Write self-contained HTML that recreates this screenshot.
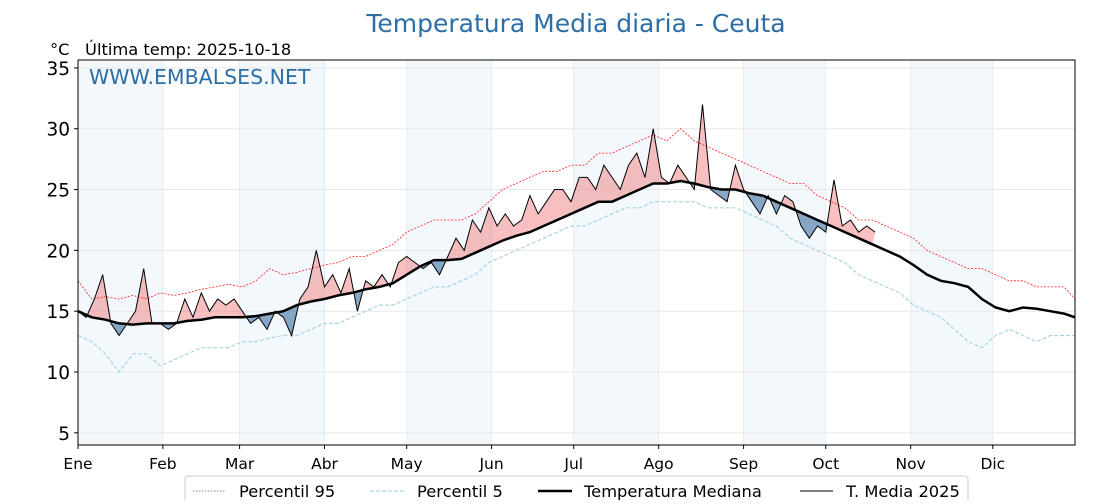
<!DOCTYPE html>
<html><head><meta charset="utf-8"><style>
body{margin:0;background:#fff;width:1120px;height:500px;overflow:hidden;font-family:"DejaVu Sans","Liberation Sans",sans-serif}
</style></head><body>
<svg width="1120" height="500" xmlns="http://www.w3.org/2000/svg" id="chart" font-family="DejaVu Sans, Liberation Sans, sans-serif">
<text x="576" y="32" text-anchor="middle" font-size="25" fill="#2d6ea6">Temperatura Media diaria - Ceuta</text>
<text x="50" y="55" font-size="16.3" fill="#000" xml:space="preserve">°C   Última temp: 2025-10-18</text>
<g id="bands"></g><g id="grid"></g><g id="series"></g>
<rect x="78" y="60" width="997" height="385" fill="none" stroke="#000" stroke-width="1"/>
<text x="89" y="84" font-size="20.5" fill="#2d6ea6">WWW.EMBALSES.NET</text>
<g id="axes"></g>
<g>
<rect x="185" y="476" width="783" height="36" rx="3" fill="#fff" stroke="#ccc"/>
<line x1="193" y1="491" x2="225" y2="491" stroke="#555" stroke-width="0.8" stroke-dasharray="1.5,1.5"/>
<text x="239" y="497" font-size="16.3">Percentil 95</text>
<line x1="370" y1="491" x2="405" y2="491" stroke="#a8d4e0" stroke-width="1.2" stroke-dasharray="4,2"/>
<text x="417" y="497" font-size="16.3">Percentil 5</text>
<line x1="538" y1="491" x2="572" y2="491" stroke="#000" stroke-width="2.5"/>
<text x="584" y="497" font-size="16.3">Temperatura Mediana</text>
<line x1="800" y1="491" x2="833" y2="491" stroke="#000" stroke-width="1"/>
<text x="846" y="497" font-size="16.3">T. Media 2025</text>
</g>
</svg>
<script>
const months=["Ene","Feb","Mar","Abr","May","Jun","Jul","Ago","Sep","Oct","Nov","Dic"];
const monthStartDays=[0,31,59,90,120,151,181,212,243,273,304,334];
const yTicks=[5,10,15,20,25,30,35];
// step 5 days
const median=[15,14.5,14.3,14,13.9,14,14,14,14.2,14.3,14.5,14.5,14.5,14.6,14.8,15,15.5,15.8,16,16.3,16.5,16.8,17,17.3,18,18.7,19.2,19.2,19.3,19.8,20.3,20.8,21.2,21.5,22,22.5,23,23.5,24,24,24.5,25,25.5,25.5,25.7,25.5,25.2,25,25,24.7,24.5,24,23.5,23,22.5,22,21.5,21,20.5,20,19.5,18.8,18,17.5,17.3,17,16,15.3,15,15.3,15.2,15,14.8,14.5];
const p95=[17.5,16,16.2,16,16.3,16,16.5,16.3,16.5,16.8,17,17.2,17,17.5,18.5,18,18.2,18.5,18.8,19,19.5,19.5,20,20.5,21.5,22,22.5,22.5,22.5,23,24,25,25.5,26,26.5,26.5,27,27,28,28,28.5,29,29.5,29,30,29,28.5,28,27.5,27,26.5,26,25.5,25.5,24.5,24,23.5,22.5,22.5,22,21.5,21,20,19.5,19,18.5,18.5,18,17.5,17.5,17,17,17,16];
const p5=[13,12.5,11.5,10,11.5,11.5,10.5,11,11.5,12,12,12,12.5,12.5,12.8,13,13,13.5,14,14,14.5,15,15.5,15.5,16,16.5,17,17,17.5,18,19,19.5,20,20.5,21,21.5,22,22,22.5,23,23.5,23.5,24,24,24,24,23.5,23.5,23.5,23,22.5,22,21,20.5,20,19.5,19,18,17.5,17,16.5,15.5,15,14.5,13.5,12.5,12,13,13.5,13,12.5,13,13,13];
// step 3 days
const t2025=[15,14.5,16,18,14,13,14,15,18.5,14,14,13.5,14,16,14.5,16.5,15,16,15.5,16,15,14,14.5,13.5,15,14.5,13,16,17,20,17,18,16.5,18.5,15,17.5,17,18,17,19,19.5,19,18.5,19,18,19.5,21,20,22.5,21.5,23.5,22,23,22,22.5,24.5,23,24,25,25,24,26,26,25,27,26,25,27,28,26,30,26,25.5,27,26,25,32,25,24.5,24,27,25,24,23,24.5,23,24.5,24,22,21,22,21.5,25.8,22,22.5,21.5,22,21.5];
const X0=78,X1=1075,Y0=60,Y1=445,YMIN=4.0,YMAX=35.65;
const xs=d=>X0+d*(X1-X0)/364, ys=v=>Y1-(v-YMIN)*(Y1-Y0)/(YMAX-YMIN);
const NS="http://www.w3.org/2000/svg";
function mk(tag,attrs,parent){const e=document.createElementNS(NS,tag);for(const k in attrs)e.setAttribute(k,attrs[k]);document.getElementById(parent).appendChild(e);return e;}
const ends=monthStartDays.concat([365]);
for(let i=0;i<12;i+=2){const r=mk('rect',{x:xs(ends[i]),y:Y0,width:xs(ends[i+1])-xs(ends[i]),height:Y1-Y0,fill:'#f3f8fc'},'bands');

}
yTicks.forEach(t=>{const l=mk('line',{x1:X0,x2:X1,y1:ys(t),y2:ys(t),stroke:'#e8e8e8','stroke-width':1},'grid');


const tk=mk('line',{x1:X0-4,x2:X0,y1:ys(t),y2:ys(t),stroke:'#000'},'axes');


const tx=mk('text',{x:X0-8,y:ys(t)+7,'text-anchor':'end','font-size':18.5},'axes');tx.textContent=t;

});
months.forEach((m,i)=>{const x=xs(monthStartDays[i]);
const l=mk('line',{x1:x,x2:x,y1:Y0,y2:Y1,stroke:'#e4ecf2'},'grid');


const tk=mk('line',{x1:x,x2:x,y1:Y1,y2:Y1+4,stroke:'#000'},'axes');


const tx=mk('text',{x:x,y:Y1+24,'text-anchor':'middle','font-size':15.5},'axes');tx.textContent=m;

});
const pts=(arr,step)=>arr.map((v,i)=>[xs(Math.min(i*step,364)),ys(v)]);
const ps=p=>p.map(q=>q[0].toFixed(1)+','+q[1].toFixed(1)).join(' ');
const mp=pts(median,5), tp=pts(t2025,3);
const ca=mk('clipPath',{id:'above'},'series');ca.appendChild(document.createElementNS(NS,'polygon'));
ca.firstChild.setAttribute('points',ps(mp)+` ${X1},${Y0} ${X0},${Y0}`);
const cb=mk('clipPath',{id:'below'},'series');cb.appendChild(document.createElementNS(NS,'polygon'));
cb.firstChild.setAttribute('points',ps(mp)+` ${X1},${Y1} ${X0},${Y1}`);
const lastX=tp[tp.length-1][0];
const mpCut=mp.filter(q=>q[0]<=lastX);
const fillPts=ps(tp)+' '+ps(mpCut.slice().reverse());
const fa=mk('polygon',{points:fillPts,fill:'#f08080','fill-opacity':0.5,'clip-path':'url(#above)'},'series');


const fb=mk('polygon',{points:fillPts,fill:'#4a7aa8','fill-opacity':0.65,'clip-path':'url(#below)'},'series');


const l95=mk('polyline',{points:ps(pts(p95,5)),fill:'none',stroke:'#ff2020','stroke-width':0.8,'stroke-dasharray':'2,1.5'},'series');


const l5=mk('polyline',{points:ps(pts(p5,5)),fill:'none',stroke:'#a8d4e0','stroke-width':1.2,'stroke-dasharray':'4,2'},'series');


const lm=mk('polyline',{points:ps(mp),fill:'none',stroke:'#000','stroke-width':2.5},'series');


const lt=mk('polyline',{points:ps(tp),fill:'none',stroke:'#000','stroke-width':1},'series');


</script>
</body></html>
